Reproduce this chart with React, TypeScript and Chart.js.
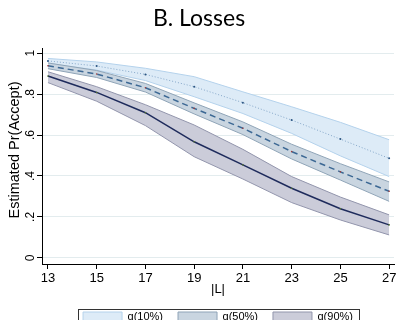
import React, { useEffect, useRef } from 'react';
import { Chart, registerables } from 'chart.js';

Chart.register(...registerables);

// ---- data ----
const xValues = [13, 15, 17, 19, 21, 23, 25, 27];

const q10Mean = [0.962, 0.937, 0.896, 0.836, 0.758, 0.673, 0.58, 0.486];
const q10Hi = [0.974, 0.957, 0.926, 0.885, 0.811, 0.738, 0.662, 0.577];
const q10Lo = [0.95, 0.917, 0.866, 0.787, 0.705, 0.608, 0.498, 0.397];

const q50Mean = [0.938, 0.898, 0.831, 0.73, 0.633, 0.519, 0.42, 0.325];
const q50Hi = [0.952, 0.915, 0.852, 0.757, 0.664, 0.555, 0.46, 0.371];
const q50Lo = [0.924, 0.881, 0.81, 0.703, 0.602, 0.483, 0.38, 0.276];

const q90Mean = [0.888, 0.808, 0.709, 0.567, 0.454, 0.34, 0.24, 0.161];
const q90Hi = [0.909, 0.836, 0.748, 0.649, 0.53, 0.397, 0.297, 0.21];
const q90Lo = [0.856, 0.765, 0.646, 0.494, 0.385, 0.27, 0.185, 0.112];

const xTicks = [13, 15, 17, 19, 21, 23, 25, 27];
const yTicks = [0, 0.2, 0.4, 0.6, 0.8, 1];
const yTickLabels = ['0', '.2', '.4', '.6', '.8', '1'];
const seriesLabels = ['q(10%)', 'q(50%)', 'q(90%)'];

const titleText = 'B. Losses';
const xTitle = '|L|';
const yTitle = '   Estimated Pr(Accept)';

const W = 398;
const H = 332;
const FONT = "'Liberation Sans', Arial, sans-serif";

const pts = (arr: number[]) => xValues.map((x, i) => ({ x, y: arr[i] }));

const bandColors = [
  { fill: '#DDEBF7', border: '#B4D2EC' },
  { fill: '#C9D5E0', border: '#8FA4B7' },
  { fill: '#CBCCD9', border: '#9295AC' },
];

const legendBorder = {
  id: 'legendBorder',
  afterDraw(chart: any) {
    const hb = chart.legend && chart.legend.legendHitBoxes;
    if (!hb || !hb.length) return;
    const ctx = chart.ctx;
    const left = Math.min(...hb.map((b: any) => b.left)) - 5;
    const right = Math.max(...hb.map((b: any) => b.left + b.width)) + 6;
    const top = hb[0].top - 2;
    const bottom = hb[0].top + hb[0].height + 4;
    ctx.save();
    ctx.strokeStyle = '#333';
    ctx.lineWidth = 1;
    ctx.strokeRect(Math.round(left) + 0.5, Math.round(top) + 0.5, Math.round(right - left), Math.round(bottom - top));
    ctx.restore();
  },
};

function makeConfig(): any {
  const band = (label: string, hi: number[], lo: number[], c: { fill: string; border: string }, order: number) => [
    {
      label,
      data: pts(hi),
      borderColor: c.border,
      backgroundColor: c.fill,
      borderWidth: 1,
      pointRadius: 0,
      fill: '+1',
      order: order + 1,
    },
    {
      label: '',
      data: pts(lo),
      borderColor: c.border,
      backgroundColor: c.fill,
      borderWidth: 1,
      pointRadius: 0,
      fill: false,
      order,
    },
  ];
  return {
    type: 'line',
    data: {
      datasets: [
        ...band(seriesLabels[0], q10Hi, q10Lo, bandColors[0], 8),
        ...band(seriesLabels[1], q50Hi, q50Lo, bandColors[1], 6),
        ...band(seriesLabels[2], q90Hi, q90Lo, bandColors[2], 4),
        {
          label: '',
          data: pts(q10Mean),
          borderColor: '#86A8CA',
          borderWidth: 1,
          borderDash: [1, 2],
          pointRadius: 1,
          pointBorderWidth: 0,
          pointBackgroundColor: '#2B5582',
          fill: false,
          order: 3,
        },
        {
          label: '',
          data: pts(q50Mean),
          borderColor: '#3C6894',
          borderWidth: 1.5,
          borderDash: [6, 4],
          pointRadius: 0.8,
          pointBorderWidth: 0,
          pointBackgroundColor: '#A03A3A',
          fill: false,
          order: 2,
        },
        {
          label: '',
          data: pts(q90Mean),
          borderColor: '#1E2B5C',
          borderWidth: 1.5,
          pointRadius: 0.8,
          pointBorderWidth: 0,
          pointBackgroundColor: '#55752F',
          fill: false,
          order: 1,
        },
      ],
    },
    options: {
      responsive: false,
      animation: false,
      events: [],
      layout: { padding: 0 },
      elements: { line: { tension: 0 } },
      scales: {
        x: {
          type: 'linear',
          min: 12.756,
          max: 27.2,
          afterBuildTicks: (s: any) => {
            s.ticks = xTicks.map((v) => ({ value: v }));
          },
          afterFit: (s: any) => {
            s.height = 32;
            s.paddingLeft = 0;
            s.paddingRight = 1;
          },
          grid: { display: true, drawOnChartArea: false, drawTicks: true, tickLength: 5, color: '#000', tickColor: '#000' },
          border: { display: true, color: '#000', width: 1 },
          ticks: {
            color: '#000',
            padding: 2.5,
            maxRotation: 0,
            autoSkip: false,
            font: { family: FONT, size: 13, lineHeight: 1.1 },
            callback: (v: any) => String(v),
          },
          title: {
            display: true,
            text: xTitle,
            color: '#000',
            font: { family: FONT, size: 13, lineHeight: 1.0 },
            padding: { top: 0, bottom: 0 },
          },
        },
        y: {
          type: 'linear',
          min: -0.03,
          max: 1.025,
          afterBuildTicks: (s: any) => {
            s.ticks = yTicks.map((v) => ({ value: v }));
          },
          afterFit: (s: any) => {
            s.width = 42;
            s.paddingTop = 0;
            s.paddingBottom = 0;
          },
          grid: { display: true, drawOnChartArea: true, drawTicks: true, tickLength: 5, color: '#E3ECEE', tickColor: '#000', lineWidth: 1 },
          border: { display: true, color: '#000', width: 1 },
          ticks: {
            color: '#000',
            padding: 1.5,
            minRotation: 90,
            maxRotation: 90,
            crossAlign: 'center',
            autoSkip: false,
            font: { family: FONT, size: 12 },
            callback: (_v: any, i: number) => yTickLabels[i],
          },
          title: {
            display: true,
            text: yTitle,
            color: '#000',
            font: { family: FONT, size: 14.5, lineHeight: 1.2 },
            padding: { top: 6.6, bottom: 0 },
          },
        },
      },
      plugins: {
        title: {
          display: true,
          text: titleText,
          color: '#000',
          font: { family: "Lato, 'DejaVu Sans', sans-serif", size: 23, weight: 'normal', lineHeight: 1.2 },
          padding: { top: 5, bottom: 15.4 },
        },
        legend: {
          display: true,
          position: 'bottom',
          fullSize: false,
          align: 'center',
          labels: {
            boxWidth: 39,
            boxHeight: 9,
            padding: 15,
            color: '#000',
            font: { family: FONT, size: 11 },
            filter: (item: any) => item.text !== '',
            sort: (a: any, b: any) => a.datasetIndex - b.datasetIndex,
          },
        },
        tooltip: { enabled: false },
      },
    },
    plugins: [legendBorder],
  };
}

export default function App() {
  const ref = useRef<HTMLCanvasElement>(null);
  useEffect(() => {
    document.body.style.overflow = 'hidden';
    const chart = new Chart(ref.current as HTMLCanvasElement, makeConfig());
    return () => chart.destroy();
  }, []);
  return (
    <div style={{ position: 'fixed', left: 0, top: 0, width: W, height: 320, overflow: 'hidden', background: '#fff' }}>
      <canvas ref={ref} width={W} height={H} style={{ display: 'block', width: W, height: H }} />
    </div>
  );
}
